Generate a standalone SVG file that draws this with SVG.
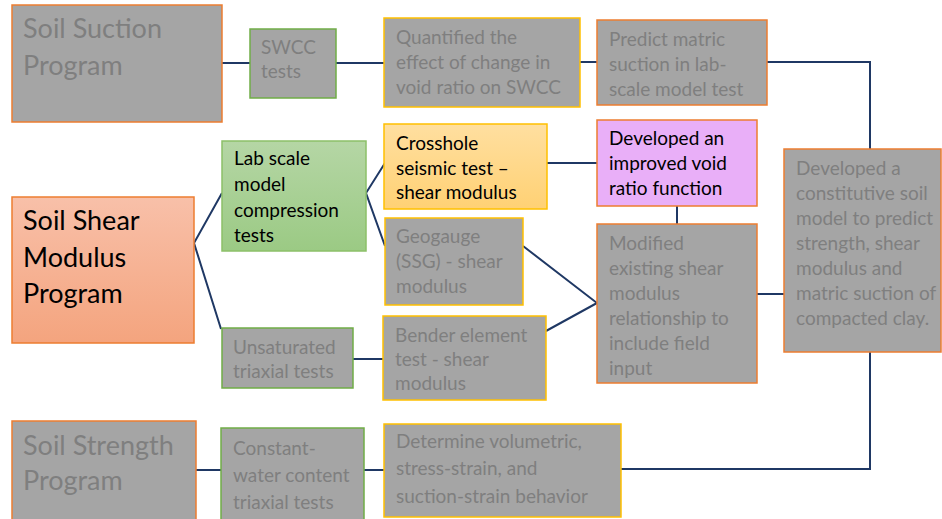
<svg xmlns="http://www.w3.org/2000/svg" width="942" height="519" viewBox="0 0 942 519">
<defs>
<linearGradient id="gOrange" x1="0" y1="0" x2="0" y2="1"><stop offset="0" stop-color="#F8C0A9"/><stop offset="1" stop-color="#F4A47E"/></linearGradient>
<linearGradient id="gGreen" x1="0" y1="0" x2="0" y2="1"><stop offset="0" stop-color="#B5D6A5"/><stop offset="1" stop-color="#9BCA84"/></linearGradient>
<linearGradient id="gYellow" x1="0" y1="0" x2="0" y2="1"><stop offset="0" stop-color="#FFDFA0"/><stop offset="1" stop-color="#FFD174"/></linearGradient>
<style>
.box{fill:#A5A5A5;stroke-width:1.5}
.o{stroke:#ED7D31}
.g{stroke:#70AD47}
.y{stroke:#FFC000}
text{font-family:Lato,"Open Sans","Liberation Sans",sans-serif;font-size:19px;fill:#7F7F7F}
.big{font-size:27px}
.dk{fill:#000000}
.c{fill:none;stroke:#1F3864;stroke-width:2}
</style>
</defs>
<g id="connectors">
<path class="c" d="M222 63H250M336 63H384M580 62H597M767 62H870V149"/>
<path class="c" d="M222 193L194 243L221 329"/>
<path class="c" d="M385 163L366 193L385 246"/>
<path class="c" d="M547 163H597M677 206V224"/>
<path class="c" d="M523 246L597 303L546 331M353 359H383"/>
<path class="c" d="M757 294H784M870 352V469H621M196 470H221M364 470H384"/>
</g>
<g id="soil-suction"><rect class="box o" x="12" y="5" width="210" height="117"/><text class="big" x="23" y="38">Soil Suction</text><text class="big" x="23" y="75">Program</text></g>
<g id="swcc"><rect class="box g" x="250" y="29" width="86" height="69"/><text x="261" y="54">SWCC</text><text x="261" y="78">tests</text></g>
<g id="quantified"><rect class="box y" x="384" y="18" width="196" height="89"/><text x="396" y="44">Quantified the</text><text x="396" y="69">effect of change in</text><text x="396" y="94">void ratio on SWCC</text></g>
<g id="predict"><rect class="box o" x="597" y="20" width="170" height="85"/><text x="609" y="46">Predict matric</text><text x="609" y="71">suction in lab-</text><text x="609" y="96">scale model test</text></g>
<g id="constitutive"><rect class="box o" x="784" y="149" width="157" height="203"/><text x="796" y="175">Developed a</text><text x="796" y="200">constitutive soil</text><text x="796" y="225">model to predict</text><text x="796" y="250">strength, shear</text><text x="796" y="275">modulus and</text><text x="796" y="300">matric suction of</text><text x="796" y="325">compacted clay.</text></g>
<g id="shear-modulus"><rect class="o" x="12" y="197" width="182" height="146" fill="url(#gOrange)" stroke-width="1.5"/><text class="big dk" x="23" y="230">Soil Shear</text><text class="big dk" x="23" y="267">Modulus</text><text class="big dk" x="23" y="303">Program</text></g>
<g id="lab-scale"><rect x="222" y="141" width="144" height="110" fill="url(#gGreen)" stroke="#8CC068" stroke-width="1.5"/><text class="dk" x="234" y="165">Lab scale</text><text class="dk" x="234" y="191">model</text><text class="dk" x="234" y="217">compression</text><text class="dk" x="234" y="242">tests</text></g>
<g id="crosshole"><rect x="384" y="124" width="163" height="85" fill="url(#gYellow)" stroke="#FFC000" stroke-width="1.5"/><text class="dk" x="396" y="150">Crosshole</text><text class="dk" x="396" y="175">seismic test –</text><text class="dk" x="396" y="199">shear modulus</text></g>
<g id="void-ratio"><rect class="o" x="597" y="120" width="160" height="86" fill="#E9AFF8" stroke-width="1.5"/><text class="dk" x="609" y="145">Developed an</text><text class="dk" x="609" y="170">improved void</text><text class="dk" x="609" y="195">ratio function</text></g>
<g id="geogauge"><rect class="box y" x="385" y="218" width="138" height="87"/><text x="396" y="243">Geogauge</text><text x="396" y="268">(SSG) - shear</text><text x="396" y="293">modulus</text></g>
<g id="modified"><rect class="box o" x="597" y="224" width="160" height="159"/><text x="609" y="250">Modified</text><text x="609" y="275">existing shear</text><text x="609" y="300">modulus</text><text x="609" y="325">relationship to</text><text x="609" y="350">include field</text><text x="609" y="375">input</text></g>
<g id="unsaturated"><rect class="box g" x="222" y="328" width="131" height="60"/><text x="233" y="354">Unsaturated</text><text x="233" y="378">triaxial tests</text></g>
<g id="bender"><rect class="box y" x="383" y="316" width="163" height="84"/><text x="395" y="342">Bender element</text><text x="395" y="366">test - shear</text><text x="395" y="390">modulus</text></g>
<g id="soil-strength"><rect class="box o" x="12" y="421" width="184" height="110"/><text class="big" x="23" y="455">Soil Strength</text><text class="big" x="23" y="490">Program</text></g>
<g id="constant-water"><rect class="box g" x="221" y="428" width="143" height="100"/><text x="233" y="455">Constant-</text><text x="233" y="482">water content</text><text x="233" y="509">triaxial tests</text></g>
<g id="determine"><rect class="box y" x="384" y="424" width="237" height="93"/><text x="396" y="448">Determine volumetric,</text><text x="396" y="475">stress-strain, and</text><text x="396" y="503">suction-strain behavior</text></g>
</svg>
